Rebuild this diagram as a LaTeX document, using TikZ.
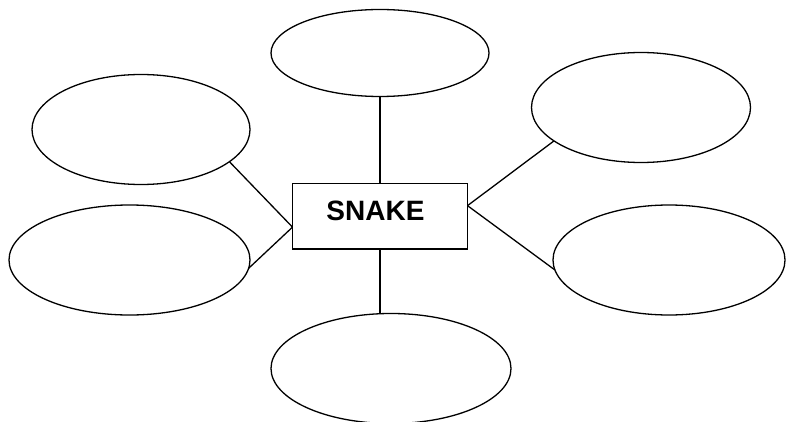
\documentclass[tikz,border=0pt]{standalone}
\usepackage{fontspec}
\setsansfont{Liberation Sans}
\usetikzlibrary{shapes.geometric,calc}
\begin{document}
\begin{tikzpicture}[x=1pt,y=-1pt,
  oval/.style={draw=black,line width=1.3pt,ellipse,inner sep=0pt,outer sep=0pt},
  centerbox/.style={draw=black,line width=1.3pt,rectangle,inner sep=0pt,outer sep=0pt,minimum width=175pt,minimum height=65.3pt},
  conn/.style={draw=black,line width=1.3pt},
  lbl/.style={font=\sffamily\bfseries\fontsize{28}{30}\selectfont,inner sep=0pt}]
\useasboundingbox (0,0) rectangle (786,422);
\node[centerbox] (box) at (380,216.4) {};
\node[lbl] (title) at ($(box.center)+(-4.5,-5.4)$) {SNAKE};
\node[oval,minimum width=218pt,minimum height=87pt] (top) at (380,53) {};
\node[oval,minimum width=218pt,minimum height=110pt] (tl) at (141,129.5) {};
\node[oval,minimum width=241pt,minimum height=110pt] (left) at (129.5,260) {};
\node[oval,minimum width=219pt,minimum height=110pt] (tr) at (641,107.5) {};
\node[oval,minimum width=232pt,minimum height=110pt] (right) at (669,260) {};
\node[oval,minimum width=240pt,minimum height=110pt] (bot) at (391,368.5) {};
\draw[conn] (top.south) -- (box.north);
\draw[conn] (box.south) -- (box.south |- bot.north);
\draw[conn] (tl.-20.9) -- (box.187.4);
\draw[conn] (left.-4.8) -- (box.187.4);
\draw[conn] (tr.-159.1) -- (box.7);
\draw[conn] (right.185.4) -- (box.7);
\end{tikzpicture}
\end{document}
